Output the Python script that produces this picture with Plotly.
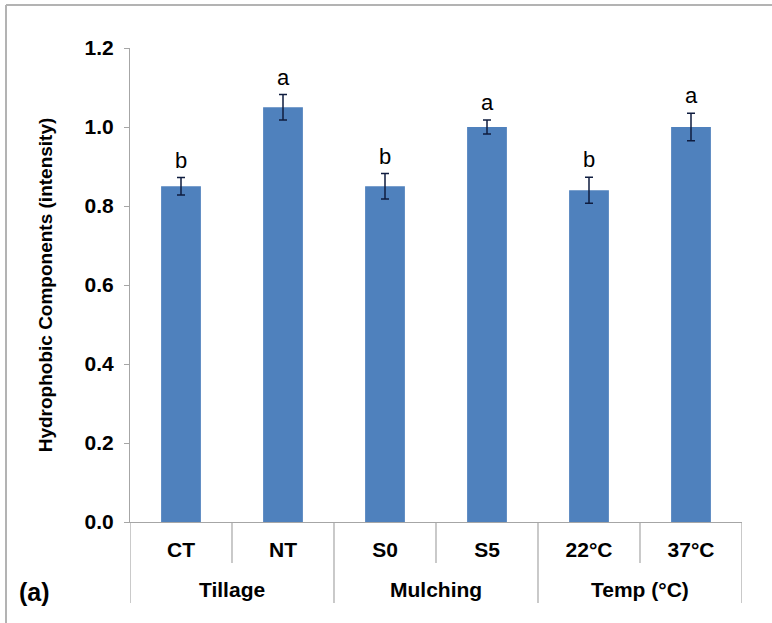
import plotly.graph_objects as go

categories = ["CT", "NT", "S0", "S5", "22°C", "37°C"]
groups = ["Tillage", "Mulching", "Temp (°C)"]
values = [0.85, 1.05, 0.85, 1.00, 0.84, 1.00]
errors = [0.022, 0.032, 0.032, 0.018, 0.033, 0.035]
letters = ["b", "a", "b", "a", "b", "a"]
y_ticks = [0.0, 0.2, 0.4, 0.6, 0.8, 1.0, 1.2]

W, H = 772, 623
L, R, T, B = 130, 30, 48, 101
plot_w = W - L - R
plot_h = H - T - B

def px_x(p):
    return (p - L) / plot_w

def px_y(p):
    return (H - B - p) / plot_h

FONT = "Liberation Sans, Arial, sans-serif"
AX = "#a6a6a6"

fig = go.Figure()
fig.add_trace(go.Bar(
    x=list(range(len(categories))), y=values, width=0.39,
    marker=dict(color="#4F81BD", line=dict(width=0)),
    error_y=dict(type="data", array=errors, visible=True,
                 color="#0f1c3f", thickness=1.5, width=4),
    showlegend=False, hoverinfo="skip",
))

annotations = []
for i, (v, e, t) in enumerate(zip(values, errors, letters)):
    annotations.append(dict(x=i, y=v + e, xref="x", yref="y", text=t,
                            showarrow=False, yanchor="bottom", yshift=3,
                            font=dict(family=FONT, size=22, color="black")))
for gi, g in enumerate(groups):
    annotations.append(dict(x=gi * 2 + 0.5, y=px_y(589), xref="x", yref="paper",
                            text=g, showarrow=False, yanchor="middle",
                            font=dict(family=FONT, size=21, color="black", weight="bold")))
annotations.append(dict(x=px_x(34), y=px_y(592), xref="paper", yref="paper", text="(a)",
                        showarrow=False, xanchor="center", yanchor="middle",
                        font=dict(family=FONT, size=25, color="black", weight="bold")))

shapes = []
n = len(categories)
for k in range(n + 1):
    b = k - 0.5
    long_line = (k % 2 == 0)
    shapes.append(dict(type="line", xref="x", yref="paper", x0=b, x1=b,
                       y0=0, y1=px_y(603) if long_line else px_y(563),
                       line=dict(color=AX, width=1.2)))
# outer frame
shapes.append(dict(type="line", xref="paper", yref="paper",
                   x0=px_x(6), x1=px_x(800), y0=px_y(5), y1=px_y(5),
                   line=dict(color="#b3b3b3", width=2)))
shapes.append(dict(type="line", xref="paper", yref="paper",
                   x0=px_x(6), x1=px_x(6), y0=px_y(5), y1=px_y(640),
                   line=dict(color="#b3b3b3", width=2)))

fig.update_layout(
    width=W, height=H,
    margin=dict(l=L, r=R, t=T, b=B),
    paper_bgcolor="white", plot_bgcolor="white",
    annotations=annotations, shapes=shapes,
    font=dict(family=FONT, color="black"),
)
fig.update_xaxes(
    range=[-0.5, n - 0.5], tickmode="array",
    tickvals=list(range(n)), ticktext=categories,
    showline=True, linecolor=AX, linewidth=1.2,
    ticks="", showgrid=False, zeroline=False,
    tickfont=dict(family=FONT, size=21, color="black", weight="bold"),
    ticklabelstandoff=9,
)
fig.update_yaxes(
    range=[0, 1.2], tickmode="array", tickvals=y_ticks,
    ticktext=[f"{t:.1f}" for t in y_ticks],
    showline=True, linecolor=AX, linewidth=1.2,
    ticks="outside", ticklen=5, tickcolor=AX, tickwidth=1.2,
    showgrid=False, zeroline=False,
    tickfont=dict(family=FONT, size=21, color="black", weight="bold"),
    ticklabelstandoff=6,
    title=dict(text="Hydrophobic Components (intensity)", standoff=26,
               font=dict(family=FONT, size=19, color="black", weight="bold")),
)

fig.write_html("out.html", config={"displayModeBar": False},
               post_script="document.body.style.margin='0';")
